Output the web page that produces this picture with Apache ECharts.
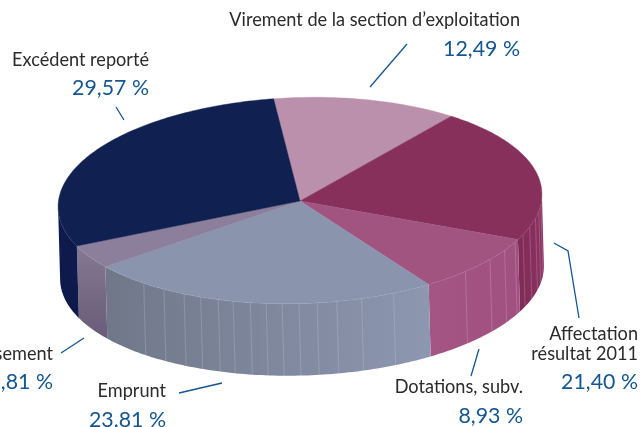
<!DOCTYPE html>
<html><head><meta charset="utf-8">
<style>html,body{margin:0;padding:0;background:#fff}#c{width:643px;height:427px}</style>
<script src="https://cdn.jsdelivr.net/npm/echarts@6/dist/echarts.min.js"></script>
</head><body><div id="c"></div>
<script>
// Data, clockwise from the top of the pie
var categories = ['Virement de la section d\u2019exploitation','Affectation\nr\u00e9sultat 2011','Dotations, subv.','Emprunt','Amortissement','Exc\u00e9dent report\u00e9'];
var values = [12.49,21.40,8.93,23.81,3.81,29.57];
var valueLabels = ['12,49 %','21,40 %','8,93 %','23.81 %','3,81 %','29,57 %'];

// Styling and layout
var topColors = ['#bb90ac','#87305b','#a25481','#8b94ad','#8c7f9b','#102050'];
var wallFrom  = ['#bb90ac','#7f2a55','#a35583','#707789','#857892','#0e1a4b'];
var wallTo    = ['#bb90ac','#8c3260','#a15080','#8d97b0','#685c78','#0e1a4b'];
var wallVertical = [false,false,false,false,true,false];
var CX=300, CY=200.5, RX=242, RY=103, TILT=1.8*Math.PI/180, START=95.5, DX=2, DY=72;
var seams=[-131,-125,-119.4,-115,-110.5,-106.8,-102.6,-98.8,-95,-91,-86.7,-82,-76,-68,-47.6,-39,-33,-28,-23.5,-19,-14,-10,-6];
var total=values.reduce(function(a,b){return a+b;},0);

function pt(deg,dx,dy){
  var t=deg*Math.PI/180, x=RX*Math.cos(t), y=-RY*Math.sin(t);
  return [CX+x*Math.cos(TILT)+y*Math.sin(TILT)+(dx||0), CY-x*Math.sin(TILT)+y*Math.cos(TILT)+(dy||0)];
}
function arc(a,b,dx,dy){
  var n=Math.max(2,Math.ceil(Math.abs(a-b))), r=[];
  for(var i=0;i<=n;i++) r.push(pt(a+(b-a)*i/n,dx,dy));
  return r;
}
function renderSlice(params,api){
  var i=params.dataIndex, value=api.value(0), before=api.value(1);
  var a=START-before/total*360, b=a-value/total*360;
  var kids=[];
  var hi=Math.min(a,-0.3), lo=Math.max(b,-180.3);
  if(hi>lo){
    var upper=arc(hi,lo), lower=arc(lo,hi,DX,DY);
    var p0=pt(hi), p1=pt(lo);
    var stops=[{offset:0,color:wallFrom[i]},{offset:1,color:wallTo[i]}];
    var grad=wallVertical[i]
      ? new echarts.graphic.LinearGradient(0,p1[1],0,p0[1]+DY,stops,true)
      : new echarts.graphic.LinearGradient(p1[0],0,p0[0],0,stops,true);
    kids.push({type:'polygon',shape:{points:upper.concat(lower)},style:{fill:grad}});
    seams.forEach(function(s){
      if(s<hi-0.5&&s>lo+0.5) kids.push({type:'line',shape:{x1:pt(s)[0],y1:pt(s)[1],x2:pt(s,DX,DY)[0],y2:pt(s,DX,DY)[1]},
        style:{stroke:'rgba(225,225,235,0.22)',lineWidth:1}});
    });
    kids.push({type:'polyline',shape:{points:upper},style:{fill:null,stroke:'rgba(225,225,235,0.22)',lineWidth:0.6}});
  }
  kids.push({type:'polygon',shape:{points:[[CX,CY+0.5]].concat(arc(a,b))},style:{fill:topColors[i],stroke:topColors[i],lineWidth:0.4},z2:5});
  return {type:'group',children:kids};
}
var cumulative=0, sliceData=values.map(function(v){var r=[v,cumulative];cumulative+=v;return r;});

var ink='#2b2b2b', blue='#14568f';
var names=[[520,20],[638,334],[523,387],[166,391],[53,354],[149,60]];
var nums =[[520,49],[638,382],[523,416],[166,420],[53,382],[149,88]];
var leaders=[[[407,44],[370,87]],[[554,243],[568,251],[579,318]],[[479,349],[471,376]],[[179,393],[222,383]],[[61,353],[84,338]],[[116,107],[124,120]]];
var graphics=[];
categories.forEach(function(c,i){
  c.split('\n').forEach(function(line,k){
    graphics.push({type:'text',x:names[i][0],y:names[i][1]+k*20,scaleX:0.93,
      style:{text:line,align:'right',verticalAlign:'middle',fill:ink,font:'19.5px Lato'}});
  });
  graphics.push({type:'text',x:nums[i][0],y:nums[i][1],scaleX:0.97,
    style:{text:valueLabels[i],align:'right',verticalAlign:'middle',fill:blue,font:'22px Lato'}});
  graphics.push({type:'polyline',shape:{points:leaders[i]},style:{fill:null,stroke:blue,lineWidth:1.3}});
});

var chart=echarts.init(document.getElementById('c'),null,{renderer:'canvas'});
chart.setOption({
  animation:false,
  backgroundColor:'#fff',
  graphic:{elements:graphics},
  series:[{type:'custom',coordinateSystem:'none',silent:true,clip:false,renderItem:renderSlice,
    encode:{value:[0]},data:sliceData}]
});
</script></body></html>
